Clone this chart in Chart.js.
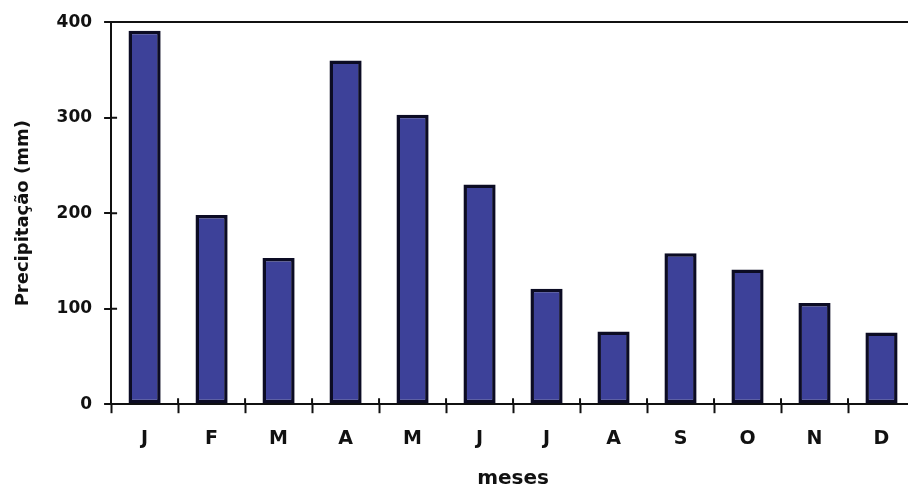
<!DOCTYPE html>
<html>
<head>
<meta charset="utf-8">
<script src="https://cdn.jsdelivr.net/npm/chart.js@4"></script>
<style>
  html, body { margin: 0; padding: 0; background: #fff; overflow: hidden; }
  #wrap { width: 916px; height: 491px; }
</style>
</head>
<body>
<div id="wrap"><canvas id="rainChart" width="916" height="491"></canvas></div>
<script>
const meses = ["J", "F", "M", "A", "M", "J", "J", "A", "S", "O", "N", "D"];
const precipitacao = [391, 198, 153, 360, 303, 230, 121, 76, 158, 141, 106, 75];
const yTicks = [0, 100, 200, 300, 400];

const ink = "#111111";
const fam = "'DejaVu Sans', Verdana, sans-serif";

// small tick marks that reach into the plot area, like the scanned figure
const innerTicks = {
  id: "innerTicks",
  afterDraw(chart) {
    const ctx = chart.ctx;
    const x = chart.scales.x;
    const y = chart.scales.y;
    const area = chart.chartArea;
    ctx.save();
    ctx.strokeStyle = ink;
    ctx.lineWidth = 2;
    ctx.beginPath();
    yTicks.forEach((v) => {
      if (v === 0 || v === 400) return;
      const py = y.getPixelForValue(v);
      ctx.moveTo(area.left, py);
      ctx.lineTo(area.left + 6, py);
    });
    const half = (x.getPixelForTick(1) - x.getPixelForTick(0)) / 2;
    for (let i = 1; i < meses.length; i++) {
      const px = x.getPixelForTick(i) - half;
      ctx.moveTo(px, area.bottom);
      ctx.lineTo(px, area.bottom - 6);
    }
    ctx.stroke();
    ctx.restore();
  },
};

const configRainChart = {
  type: "bar",
  data: {
    labels: meses,
    datasets: [
      {
        label: "Precipitação",
        data: precipitacao,
        backgroundColor: "#3d4199",
        borderColor: "#0c0c24",
        borderWidth: 3.5,
        borderSkipped: false,
        barPercentage: 0.48,
        categoryPercentage: 1,
      },
    ],
  },
  options: {
    responsive: false,
    animation: false,
    layout: {
      padding: { top: 14, right: 1, left: 9, bottom: 0 },
    },
    scales: {
      x: {
        grid: {
          drawOnChartArea: false,
          tickLength: 9,
          tickColor: ink,
          tickWidth: 2,
        },
        border: { color: ink, width: 2 },
        ticks: { color: ink, font: { family: fam, size: 19, weight: "bold" }, padding: 14 },
        title: {
          display: true,
          text: "meses",
          color: ink,
          font: { family: fam, size: 20, weight: "bold" },
          padding: { top: 3, bottom: 0 },
        },
      },
      y: {
        min: 0,
        max: 400,
        ticks: { stepSize: 100, color: ink, font: { family: fam, size: 17, weight: "bold" }, padding: 12 },
        grid: {
          color: (c) => (c.tick && c.tick.value === 400 ? ink : "rgba(0,0,0,0)"),
          tickColor: ink,
          tickLength: 7,
          lineWidth: 2,
        },
        border: { color: ink, width: 2 },
        title: {
          display: true,
          text: "Precipitação (mm)",
          color: ink,
          font: { family: fam, size: 18, weight: "bold" },
          padding: { bottom: 10 },
        },
      },
    },
    plugins: {
      legend: { display: false },
      tooltip: { enabled: false },
    },
  },
  plugins: [innerTicks],
};

new Chart(document.getElementById("rainChart"), configRainChart);
</script>
</body>
</html>
